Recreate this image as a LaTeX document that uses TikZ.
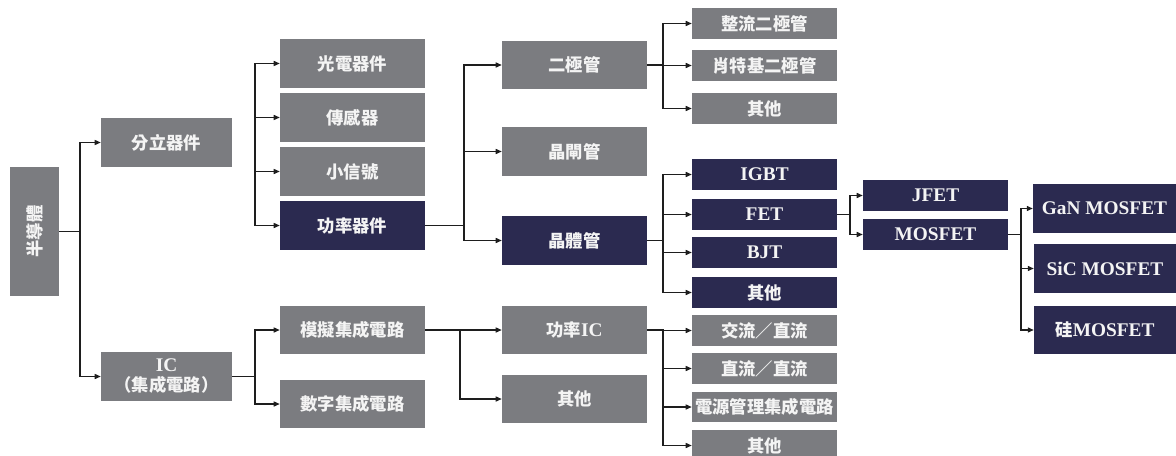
\documentclass[tikz,border=0pt]{standalone}
\usepackage{fontspec}
\setmainfont{Liberation Serif}
\newfontfamily\cjk{Noto Sans CJK TC}
\usetikzlibrary{arrows.meta}
\definecolor{boxgray}{HTML}{7B7C80}
\definecolor{boxnavy}{HTML}{2B2A50}
\definecolor{boxtext}{HTML}{F4F4F4}
\definecolor{linecol}{HTML}{1E1E1E}
\newcommand\zh[1]{{\cjk\bfseries\fontsize{13}{16}\selectfont #1}}
\newcommand\bx[7]{%
  \pgfmathsetmacro\bxw{(#5-#3)*0.75}%
  \pgfmathsetmacro\bxh{(#6-#4)*0.75}%
  \pgfmathsetmacro\bxx{(#3+#5)/2}%
  \pgfmathsetmacro\bxy{(#4+#6)/2}%
  \node[#1, minimum width=\bxw pt, minimum height=\bxh pt] (#2) at (\bxx,\bxy) {#7};}
\tikzset{
  basebox/.style={draw=none, inner sep=0pt, text=boxtext, align=center,
    font=\fontsize{14.5}{16}\selectfont\bfseries},
  gbox/.style={basebox, fill=boxgray},
  nbox/.style={basebox, fill=boxnavy},
  conn/.style={draw=linecol, line width=0.9pt},
  arr/.style={conn, -{Triangle[length=4.5pt,width=3.8pt]}},
}
\begin{document}
\begin{tikzpicture}[x=0.75pt,y=-0.75pt]
\useasboundingbox (0,0) rectangle (1176,456);
% column 0
\node[gbox, rotate=90, minimum width=96.75pt, minimum height=36.75pt] (bdt) at (34.5,231.5) {\zh{半導體}};
% column 1
\bx{gbox}{fl}{101}{118}{232}{167}{\zh{分立器件}}
\bx{gbox}{ic}{101}{352}{232}{401}{IC\\[-1pt]\zh{（集成電路）}}
% column 2
\bx{gbox}{gd}{280}{39}{425}{88}{\zh{光電器件}}
\bx{gbox}{cg}{280}{93}{425}{142}{\zh{傳感器}}
\bx{gbox}{xx}{280}{147}{425}{196}{\zh{小信號}}
\bx{nbox}{gl}{280}{201}{425}{250}{\zh{功率器件}}
\bx{gbox}{mn}{280}{306}{425}{354}{\zh{模擬集成電路}}
\bx{gbox}{sz}{280}{380}{425}{428}{\zh{數字集成電路}}
% column 3
\bx{gbox}{ej}{502}{41}{647}{89}{\zh{二極管}}
\bx{gbox}{jz}{502}{127}{647}{176}{\zh{晶閘管}}
\bx{nbox}{jt}{502}{216}{647}{265}{\zh{晶體管}}
\bx{gbox}{glic}{502}{306}{647}{354}{\zh{功率}IC}
\bx{gbox}{qt3}{502}{375}{647}{423}{\zh{其他}}
% column 4
\bx{gbox}{zl}{692}{8}{837}{39}{\zh{整流二極管}}
\bx{gbox}{xt}{692}{50}{837}{81}{\zh{肖特基二極管}}
\bx{gbox}{qt4a}{692}{93}{837}{124}{\zh{其他}}
\bx{nbox}{igbt}{692}{159}{837}{190}{IGBT}
\bx{nbox}{fet}{692}{199}{837}{230}{FET}
\bx{nbox}{bjt}{692}{237}{837}{268}{BJT}
\bx{nbox}{qt4b}{692}{277}{837}{308}{\zh{其他}}
\bx{gbox}{ac}{692}{315}{837}{346}{\zh{交流／直流}}
\bx{gbox}{dc}{692}{353}{837}{384}{\zh{直流／直流}}
\bx{gbox}{pm}{692}{392}{837}{422}{\zh{電源管理集成電路}}
\bx{gbox}{qt4c}{692}{430}{837}{461}{\zh{其他}}
% column 5
\bx{nbox}{jfet}{863}{180}{1008}{211}{JFET}
\bx{nbox}{mos}{863}{219}{1008}{250}{MOSFET}
% column 6
\bx{nbox}{gan}{1033}{184}{1176}{233}{GaN MOSFET}
\bx{nbox}{sic}{1034}{244}{1176}{293}{SiC MOSFET}
\bx{nbox}{si}{1034}{306}{1176}{354}{\zh{硅}MOSFET}
% junction coordinates
\coordinate (j1) at (80,0);
\coordinate (j2) at (255,0);
\coordinate (j3) at (464,0);
\coordinate (j4) at (460,0);
\coordinate (j5) at (663,0);
\coordinate (j6) at (850,0);
\coordinate (j7) at (1021,0);
% connectors
\foreach \t in {fl,ic} \draw[arr] (bdt.south) -- (j1 |- bdt.south) |- (\t.west);
\draw[conn] (j2 |- gd.west) -- (j2 |- gl.west);
\foreach \t in {gd,cg,xx,gl} \draw[arr] (j2 |- \t.west) -- (\t.west);
\foreach \t in {mn,sz} \draw[arr] (ic.east) -- (j2 |- ic.east) |- (\t.west);
\foreach \t in {ej,jz,jt} \draw[arr] (gl.east) -- (j3 |- gl.east) |- (\t.west);
\foreach \t in {glic,qt3} \draw[arr] (mn.east) -- (j4 |- mn.east) |- (\t.west);
\foreach \t in {zl,xt,qt4a} \draw[arr] (ej.east) -- (j5 |- ej.east) |- (\t.west);
\foreach \t in {igbt,fet,bjt,qt4b} \draw[arr] (jt.east) -- (j5 |- jt.east) |- (\t.west);
\foreach \t in {ac,dc,pm,qt4c} \draw[arr] (glic.east) -- (j5 |- glic.east) |- (\t.west);
\foreach \t in {jfet,mos} \draw[arr] (fet.east) -- (j6 |- fet.east) |- (\t.west);
\foreach \t in {gan,sic,si} \draw[arr] (mos.east) -- (j7 |- mos.east) |- (\t.west);
\end{tikzpicture}
\end{document}
